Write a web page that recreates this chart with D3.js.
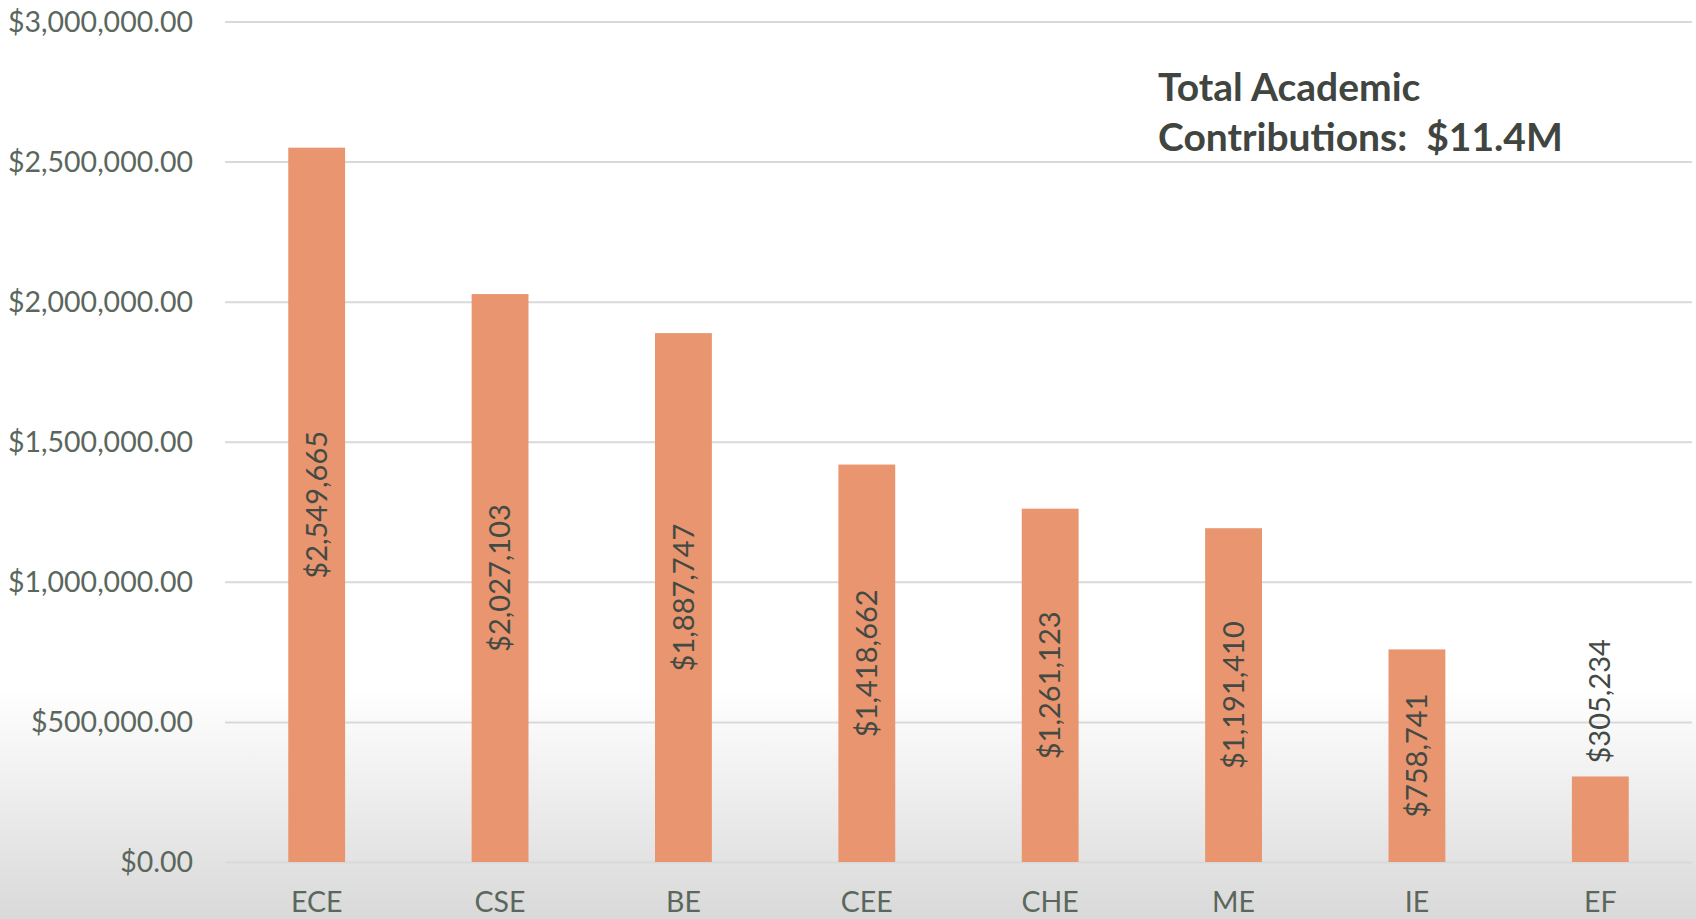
<!DOCTYPE html>
<html>
<head>
<meta charset="utf-8">
<script src="https://cdn.jsdelivr.net/npm/d3@7"></script>
<style>
  html, body { margin: 0; padding: 0; background: #fff; }
  svg { display: block; }
  .tick text { font-family: Lato, "Noto Sans", sans-serif; fill: #5a675c; }
</style>
</head>
<body>
<svg id="chart" width="1696" height="919"></svg>
<script>
"use strict";

// departments and their academic contributions (USD)
const departments = ["ECE", "CSE", "BE", "CEE", "CHE", "ME", "IE", "EF"];
const contributions = [2549665, 2027103, 1887747, 1418662, 1261123, 1191410, 758741, 305234];
const yTicks = [0, 500000, 1000000, 1500000, 2000000, 2500000, 3000000];
const titleLines = ["Total Academic", "Contributions:  $11.4M"];

const W = 1696, H = 919;
const plot = { left: 225, right: 1692, top: 21.5, bottom: 862 };

const svg = d3.select("#chart");

// soft grey fade at the bottom of the slide
const defs = svg.append("defs");
const grad = defs.append("linearGradient")
    .attr("id", "bgFade").attr("x1", 0).attr("y1", 0).attr("x2", 0).attr("y2", 1);
grad.append("stop").attr("offset", "0%").attr("stop-color", "#ffffff");
grad.append("stop").attr("offset", "75%").attr("stop-color", "#ffffff");
grad.append("stop").attr("offset", "100%").attr("stop-color", "#d9d9d9");

svg.append("rect").attr("width", W).attr("height", H).attr("fill", "url(#bgFade)");

const x = d3.scaleBand()
    .domain(departments)
    .range([plot.left, plot.right])
    .paddingInner(0.69)
    .paddingOuter(0.345);

const y = d3.scaleLinear()
    .domain([0, 3000000])
    .range([plot.bottom, plot.top]);

const money = d3.format("$,.2f");
const moneyInt = d3.format("$,");

// y axis with gridlines
const yAxis = svg.append("g")
    .attr("transform", "translate(" + plot.left + ",0)")
    .call(d3.axisLeft(y)
      .tickValues(yTicks)
      .tickFormat(d => money(d))
      .tickSize(-(plot.right - plot.left))
      .tickPadding(32));
yAxis.select(".domain").remove();
yAxis.selectAll(".tick line").attr("stroke", "#d9d9d9").attr("stroke-width", 2);
yAxis.selectAll(".tick text").attr("font-size", 28.5).attr("dy", "0.35em");

// x axis labels
const xAxis = svg.append("g")
    .attr("transform", "translate(0," + plot.bottom + ")")
    .call(d3.axisBottom(x).tickSize(0));
xAxis.select(".domain").remove();
xAxis.selectAll(".tick text").attr("font-size", 28.5).attr("y", 50).attr("dy", 0);

// bars
const rows = departments.map((d, i) => ({ dept: d, value: contributions[i] }));

svg.append("g").selectAll("rect")
  .data(rows)
  .enter().append("rect")
    .attr("x", d => x(d.dept))
    .attr("y", d => y(d.value))
    .attr("width", x.bandwidth())
    .attr("height", d => y(0) - y(d.value))
    .attr("fill", "#e9956f");

// rotated value labels, centred in the bar, or above it when it doesn't fit
const labels = svg.append("g").selectAll("text")
  .data(rows)
  .enter().append("text")
    .attr("font-family", "Lato, 'Noto Sans', sans-serif")
    .attr("font-size", 29)
    .attr("fill", "#434a44")
    .text(d => moneyInt(d.value));

labels.each(function(d) {
  const len = this.getComputedTextLength();
  const cx = x(d.dept) + x.bandwidth() / 2;
  const barH = y(0) - y(d.value);
  let cy;
  if (len + 10 < barH) cy = (y(0) + y(d.value)) / 2;
  else cy = y(d.value) - 13 - len / 2;
  d3.select(this)
    .attr("text-anchor", "middle")
    .attr("dy", "0.35em")
    .attr("transform", "translate(" + cx + "," + cy + ") rotate(-90)");
});

// title box
svg.append("g").selectAll("text")
  .data(titleLines)
  .enter().append("text")
    .attr("x", 1158)
    .attr("y", (d, i) => 101 + i * 50)
    .attr("font-family", "Lato, 'Noto Sans', sans-serif")
    .attr("font-weight", "bold")
    .attr("font-size", 39)
    .attr("fill", "#404540")
    .attr("xml:space", "preserve")
    .style("white-space", "pre")
    .text(d => d);
</script>
</body>
</html>
